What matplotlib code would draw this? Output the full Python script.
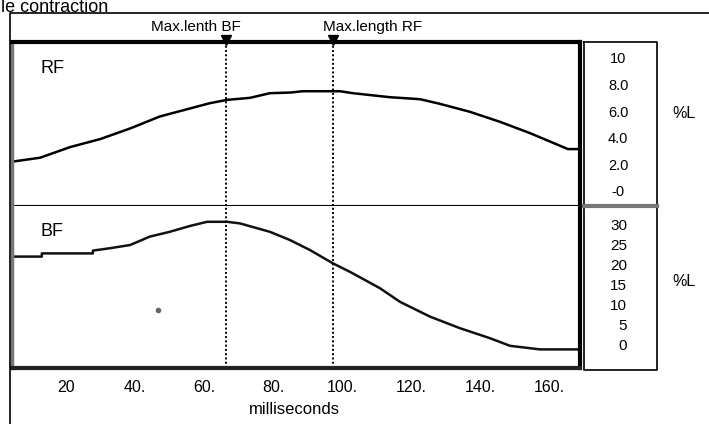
import matplotlib.pyplot as plt
from matplotlib.lines import Line2D

plt.rcParams['font.family'] = ['Liberation Sans', 'DejaVu Sans']

# RF trace (% length) against time (ms)
rf_ms = [4.3, 12.5, 21.2, 29.9, 38.6, 47.2, 55.9, 61.7, 66.7, 73.3, 79.1, 85.0,
         88.7, 99.4, 103.2, 113.9, 122.6, 128.4, 137.1, 145.8, 154.5, 163.2, 165.5, 169.0]
rf_val = [2.2, 2.5, 3.3, 3.9, 4.7, 5.6, 6.2, 6.6, 6.85, 7.0, 7.35, 7.4,
          7.5, 7.5, 7.35, 7.05, 6.9, 6.55, 5.95, 5.2, 4.35, 3.4, 3.15, 3.15]

# BF trace (% length) against time (ms)
bf_ms = [4.3, 13.0, 13.0, 27.8, 27.8, 32.8, 38.6, 44.3, 50.1, 55.9, 60.9, 66.7, 70.4,
         79.1, 84.9, 90.7, 97.4, 102.3, 111.0, 116.8, 125.5, 134.2, 142.9, 148.7,
         154.5, 157.4, 169.0]
bf_val = [22.1, 22.1, 22.9, 22.9, 23.6, 24.2, 25.0, 27.1, 28.3, 29.75, 30.8, 30.8, 30.4,
          28.3, 26.25, 23.75, 20.4, 18.3, 14.2, 10.8, 7.1, 4.2, 1.7, -0.2,
          -0.8, -1.1, -1.1]

# stray dot in the BF panel
dot_ms = [46.7]
dot_val = [8.75]

# markers for maximum length
max_len_bf = 66.5
max_len_rf = 97.4

x_ticks = [20, 40, 60, 80, 100, 120, 140, 160]
x_labels = ['20', '40.', '60.', '80.', '100.', '120.', '140.', '160.']
rf_ticks = [10, 8, 6, 4, 2, 0]
rf_labels = ['10', '8.0', '6.0', '4.0', '2.0', '-0']
bf_ticks = [30, 25, 20, 15, 10, 5, 0]
bf_labels = ['30', '25', '20', '15', '10', '5', '0']

W, H = 709, 424
fig = plt.figure(figsize=(W / 100, H / 100), dpi=100)


def box(x0, y0, x1, y1):
    # pixel box (top-left origin) -> figure rect
    return [x0 / W, 1 - y1 / H, (x1 - x0) / W, (y1 - y0) / H]


def fx(x):
    return x / W


def fy(y):
    return 1 - y / H


ax1 = fig.add_axes(box(12, 42, 580, 206))
ax2 = fig.add_axes(box(12, 206, 580, 368))

ax1.plot(rf_ms, rf_val, color='black', lw=1.8)
ax2.plot(bf_ms, bf_val, color='#111111', lw=1.8)
ax2.plot(dot_ms, dot_val, 'o', color='#666666', ms=3)

for ax in (ax1, ax2):
    ax.set_xlim(4.35, 169.0)
    for x in (max_len_bf, max_len_rf):
        ax.axvline(x, color='black', lw=1.4, ls=(0, (1, 1.2)))
    ax.tick_params(axis='both', length=0)
    ax.yaxis.tick_right()

ax1.set_ylim(-1.13, 11.2)
ax2.set_ylim(-5.75, 34.75)

ax1.set_xticks([])
ax2.set_xticks(x_ticks)
ax2.set_xticklabels(x_labels, fontsize=11.5)
ax2.tick_params(axis='x', pad=9)

ax1.set_yticks(rf_ticks)
ax1.set_yticklabels(rf_labels, fontsize=10.5, ha='center')
ax1.tick_params(axis='y', pad=27.5)
ax2.set_yticks(bf_ticks)
ax2.set_yticklabels(bf_labels, fontsize=11, ha='right')
ax2.tick_params(axis='y', pad=34)

# frame styling
ax1.spines['top'].set_linewidth(3)
ax1.spines['top'].set_color('black')
ax1.spines['right'].set_linewidth(3)
ax1.spines['left'].set_linewidth(2.5)
ax1.spines['left'].set_color('#777777')
ax1.spines['bottom'].set_linewidth(1.5)
ax1.spines['bottom'].set_color('black')
ax2.spines['top'].set_visible(False)
ax2.spines['right'].set_linewidth(3)
ax2.spines['left'].set_linewidth(2.5)
ax2.spines['left'].set_color('#777777')
ax2.spines['bottom'].set_linewidth(3)
ax2.spines['bottom'].set_color('#222222')

ax1.text(0.05, 0.84, 'RF', transform=ax1.transAxes, fontsize=13, va='center')
ax2.text(0.05, 0.84, 'BF', transform=ax2.transAxes, fontsize=13, va='center')

# arrows and labels for maximum length
for x in (max_len_bf, max_len_rf):
    ax1.plot(x, 1.015, marker='v', color='black', ms=7,
             transform=ax1.get_xaxis_transform(), clip_on=False)
ax1.annotate('Max.lenth BF', xy=(max_len_bf, 1), xycoords=('data', 'axes fraction'),
             xytext=(10, 6), textcoords='offset points', ha='right', va='bottom', fontsize=11)
ax1.annotate('Max.length RF', xy=(max_len_rf, 1), xycoords=('data', 'axes fraction'),
             xytext=(-7, 6), textcoords='offset points', ha='left', va='bottom', fontsize=11)

# right-hand scale boxes
for y0, y1 in ((42, 206), (206, 370)):
    fig.add_artist(Line2D([fx(584), fx(657), fx(657), fx(584), fx(584)],
                          [fy(y0), fy(y0), fy(y1), fy(y1), fy(y0)],
                          color='black', lw=1.2))
fig.add_artist(Line2D([fx(584), fx(657)], [fy(206), fy(206)], color='#777777', lw=3))
fig.text(fx(684), fy(114), '%L', fontsize=11.5, ha='center', va='center')
fig.text(fx(684), fy(281), '%L', fontsize=11.5, ha='center', va='center')

fig.text(fx(294), fy(409), 'milliseconds', fontsize=12, ha='center', va='center')

# outer frame and caption
fig.add_artist(Line2D([fx(10), fx(10), fx(709)], [fy(424), fy(13), fy(13)],
                      color='black', lw=1.2))
fig.text(fx(1), fy(12), 'le contraction', fontsize=13, ha='left', va='baseline')

fig.savefig('out.png', dpi=100)
